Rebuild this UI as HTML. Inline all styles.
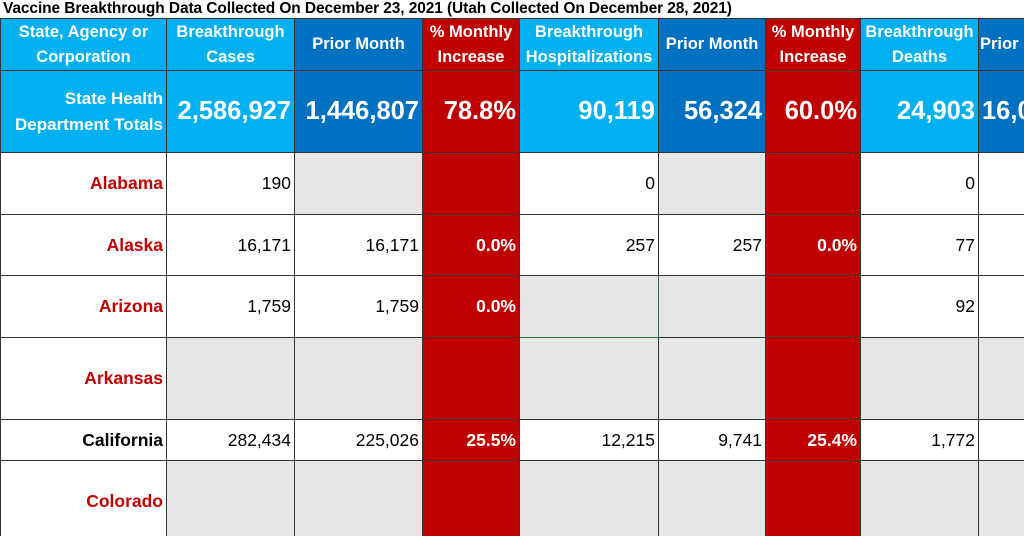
<!DOCTYPE html>
<html><head><meta charset="utf-8"><style>
body{margin:0;width:1024px;height:536px;overflow:hidden;background:#fff;font-family:"Liberation Sans",sans-serif;}
.t{position:absolute;left:3px;top:0;font-weight:bold;font-size:15.5px;line-height:18px;color:#000;white-space:nowrap;letter-spacing:-0.1px}
.w{position:absolute;left:0;top:18px;width:1024px;height:518px;overflow:hidden}
table{border-collapse:collapse;table-layout:fixed;width:1090px}
td{border:1px solid #333;padding:0 3px;overflow:hidden;white-space:nowrap;font-size:17.5px;text-align:right;color:#000}
.h td{background:#00b0f0;color:#fff;font-weight:bold;font-size:16.5px;text-align:center;line-height:25px;white-space:normal;padding:0 1px}
td.lb{background:#00b0f0}
td.db{background:#0070c0;color:#fff}
td.r{background:#c00000;color:#fff;font-weight:bold}
td.g{background:#e7e6e6}
.tot td{font-size:25.5px;font-weight:bold;color:#fff}
.tot td.n{font-size:17px;line-height:26px;white-space:normal}
td.n{font-weight:bold;color:#c00000}
.h td.db{background:#0070c0}
.h td.r{background:#c00000}
</style></head><body>
<div class="t">Vaccine Breakthrough Data Collected On December 23, 2021 (Utah Collected On December 28, 2021)</div>
<div class="w"><table>
<colgroup><col style="width:166px"><col style="width:128px"><col style="width:128px"><col style="width:97px"><col style="width:139px"><col style="width:107px"><col style="width:95px"><col style="width:118px"><col style="width:112px"></colgroup>
<tr class="h" style="height:52px"><td>State, Agency or Corporation</td><td>Breakthrough Cases</td><td class="db">Prior Month</td><td class="r">% Monthly Increase</td><td>Breakthrough Hospitalizations</td><td class="db">Prior Month</td><td class="r">% Monthly Increase</td><td>Breakthrough Deaths</td><td class="db" style="text-align:left">Prior Month</td></tr>
<tr class="tot" style="height:82px"><td class="n lb" style="color:#fff">State Health Department Totals</td><td class="lb">2,586,927</td><td class="db">1,446,807</td><td class="r">78.8%</td><td class="lb">90,119</td><td class="db">56,324</td><td class="r">60.0%</td><td class="lb">24,903</td><td class="db" style="text-align:left">16,000</td></tr>
<tr style="height:62px"><td class="n">Alabama</td><td>190</td><td class="g"></td><td class="r"></td><td>0</td><td class="g"></td><td class="r"></td><td>0</td><td></td></tr>
<tr style="height:61px"><td class="n">Alaska</td><td>16,171</td><td>16,171</td><td class="r">0.0%</td><td>257</td><td>257</td><td class="r">0.0%</td><td>77</td><td></td></tr>
<tr style="height:62px"><td class="n">Arizona</td><td>1,759</td><td>1,759</td><td class="r">0.0%</td><td class="g" style="border:1px solid #217346"></td><td class="g"></td><td class="r"></td><td>92</td><td></td></tr>
<tr style="height:82px"><td class="n">Arkansas</td><td class="g"></td><td class="g"></td><td class="r"></td><td class="g"></td><td class="g"></td><td class="r"></td><td class="g"></td><td class="g"></td></tr>
<tr style="height:41px"><td class="n" style="color:#000">California</td><td>282,434</td><td>225,026</td><td class="r">25.5%</td><td>12,215</td><td>9,741</td><td class="r">25.4%</td><td>1,772</td><td></td></tr>
<tr style="height:82px"><td class="n">Colorado</td><td class="g"></td><td class="g"></td><td class="r"></td><td class="g"></td><td class="g"></td><td class="r"></td><td class="g"></td><td class="g"></td></tr>
</table></div>
</body></html>
